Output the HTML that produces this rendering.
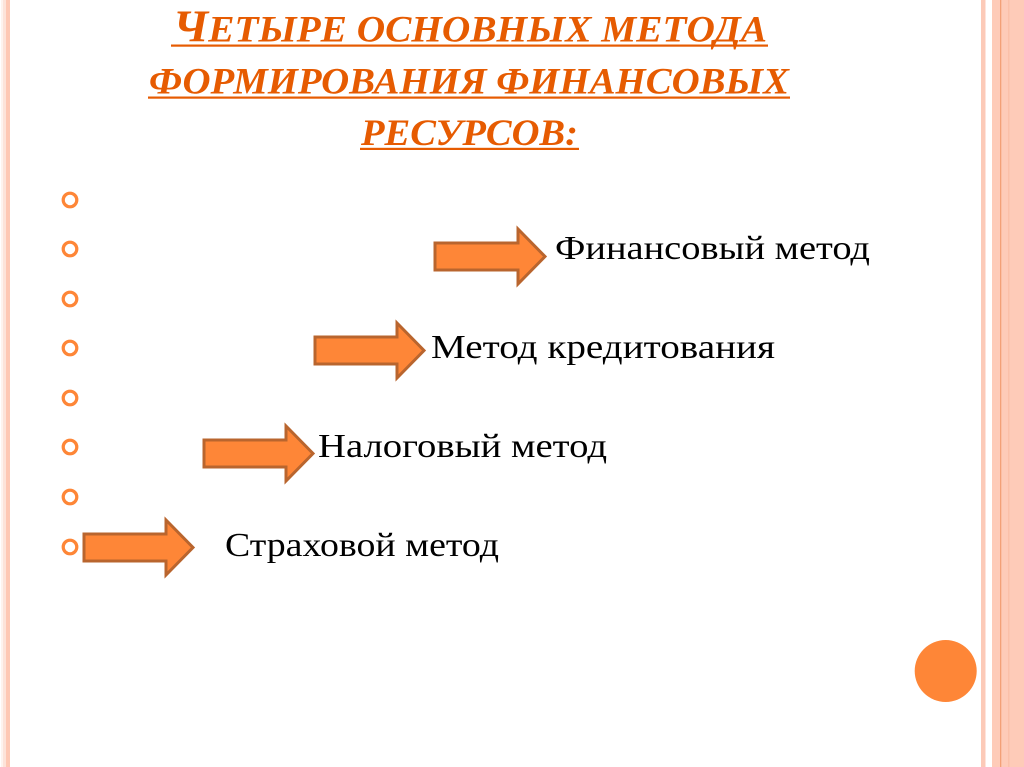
<!DOCTYPE html>
<html lang="ru">
<head>
<meta charset="utf-8">
<title>Четыре основных метода формирования финансовых ресурсов</title>
<style>
html,body{margin:0;padding:0;background:#fff;width:1024px;height:767px;overflow:hidden}
svg{display:block}
.t{font-family:"Liberation Serif","Noto Serif CJK SC",serif;font-weight:bold;font-style:italic;fill:#E65B01;font-size:37.5px;text-anchor:start}
.b{font-family:"Liberation Serif","Noto Serif CJK SC",serif;fill:#000;font-size:34px}
.r{fill:none;stroke:#FE8637;stroke-width:3.2}
.a{fill:#FE8637;stroke:#B9652E;stroke-width:3}
</style>
</head>
<body>
<svg width="1024" height="767" viewBox="0 0 1024 767" xmlns="http://www.w3.org/2000/svg">
<rect width="1024" height="767" fill="#fff"/>
<rect x="1" y="0" width="2" height="767" fill="#FEF3EE"/>
<rect x="3" y="0" width="3" height="767" fill="#FDE3D9"/>
<rect x="6" y="0" width="4" height="767" fill="#FEC8B4"/>
<rect x="981" y="0" width="4.5" height="767" fill="#FCCAB8"/>
<rect x="992" y="0" width="32" height="767" fill="#FECBB8"/>
<rect x="1000" y="0" width="1.3" height="767" fill="#F3A077"/>
<rect x="1008" y="0" width="1.5" height="767" fill="#FBC0A9"/>

<text class="t" x="173" y="41.500" textLength="594" lengthAdjust="spacingAndGlyphs"><tspan font-size="45">Ч</tspan>ЕТЫРЕ ОСНОВНЫХ МЕТОДА</text>
<rect x="171" y="44.500" width="597" height="2.2" fill="#E65B01"/>
<text class="t" x="149" y="93.500" textLength="640" lengthAdjust="spacingAndGlyphs">ФОРМИРОВАНИЯ ФИНАНСОВЫХ</text>
<rect x="148" y="96.500" width="642" height="2.2" fill="#E65B01"/>
<text class="t" x="361" y="145" textLength="217" lengthAdjust="spacingAndGlyphs">РЕСУРСОВ:</text>
<rect x="360" y="147.800" width="219" height="2.2" fill="#E65B01"/>

<circle class="r" cx="70" cy="200" r="6.8"/>
<circle class="r" cx="70" cy="249" r="6.8"/>
<circle class="r" cx="70" cy="299" r="6.8"/>
<circle class="r" cx="70" cy="348" r="6.8"/>
<circle class="r" cx="70" cy="398" r="6.8"/>
<circle class="r" cx="70" cy="447" r="6.8"/>
<circle class="r" cx="70" cy="497" r="6.8"/>
<circle class="r" cx="70" cy="547" r="6.8"/>

<polygon class="a" points="435,243 518,243 518,229 545,256.500 518,284 518,270 435,270"/>
<polygon class="a" points="315,337 397,337 397,323 424,350.500 397,378 397,364 315,364"/>
<polygon class="a" points="204,440 286,440 286,426 313,453.500 286,481 286,467 204,467"/>
<polygon class="a" points="84,534 166,534 166,520 193,547.500 166,575 166,561 84,561"/>

<text class="b" x="555" y="259" textLength="315" lengthAdjust="spacingAndGlyphs">Финансовый метод</text>
<text class="b" x="431" y="358" textLength="344" lengthAdjust="spacingAndGlyphs">Метод кредитования</text>
<text class="b" x="318" y="457" textLength="289" lengthAdjust="spacingAndGlyphs">Налоговый метод</text>
<text class="b" x="225" y="556" textLength="274" lengthAdjust="spacingAndGlyphs">Страховой метод</text>

<circle cx="945.700" cy="671" r="31" fill="#FE8637"/>
</svg>
</body>
</html>
